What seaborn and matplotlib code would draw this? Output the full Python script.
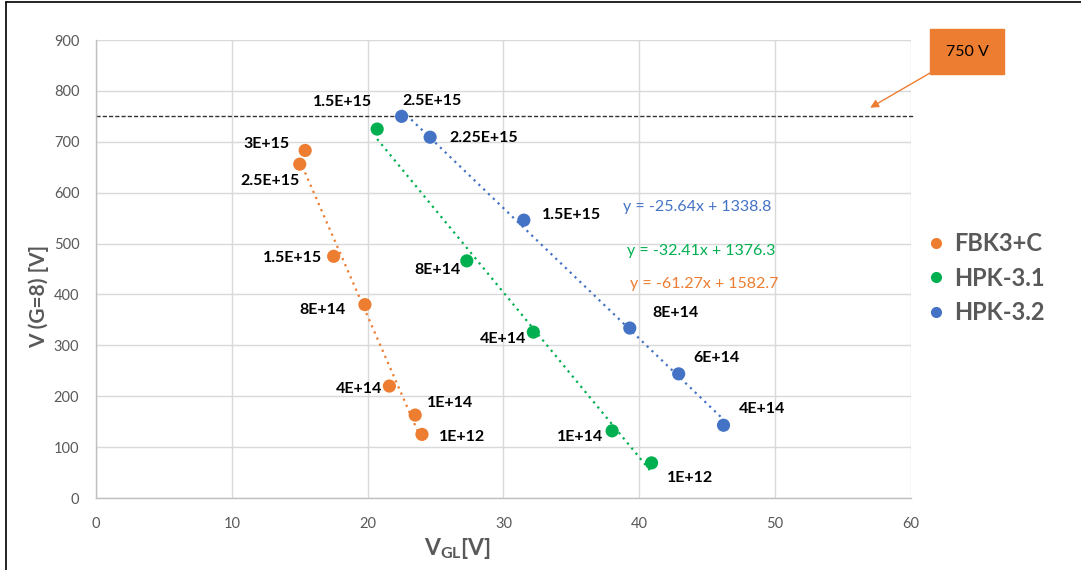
import matplotlib
matplotlib.use("Agg")
import matplotlib.pyplot as plt
from matplotlib.lines import Line2D
import numpy as np
import pandas as pd
import seaborn as sns

# Measured points: gate-layer voltage V_GL vs. bias at gain 8, labelled by fluence
fbk_vgl = [15.4, 15.0, 17.5, 19.8, 21.6, 23.5, 24.0]
fbk_v = [683, 656, 475, 380, 220, 163, 125]
fbk_flu = ["3E+15", "2.5E+15", "1.5E+15", "8E+14", "4E+14", "1E+14", "1E+12"]

hpk31_vgl = [20.7, 27.3, 32.2, 38.0, 40.9]
hpk31_v = [725, 466, 326, 132, 69]
hpk31_flu = ["1.5E+15", "8E+14", "4E+14", "1E+14", "1E+12"]

hpk32_vgl = [22.5, 24.6, 31.5, 39.3, 42.9, 46.2]
hpk32_v = [750, 709, 546, 334, 244, 143]
hpk32_flu = ["2.5E+15", "2.25E+15", "1.5E+15", "8E+14", "6E+14", "4E+14"]

# Linear trend lines (slope, intercept)
fbk_fit = (-61.27, 1582.7)
hpk31_fit = (-32.41, 1376.3)
hpk32_fit = (-25.64, 1338.8)

limit_v = 750

sns.set_theme(style="white")
plt.rcParams["font.family"] = ["Lato", "DejaVu Sans"]
plt.rcParams["mathtext.fontset"] = "custom"
plt.rcParams["mathtext.bf"] = "Lato:bold"
plt.rcParams["mathtext.rm"] = "Lato"

ORANGE = "#ED7D31"
GREEN = "#00B050"
BLUE = "#4472C4"
GRAY = "#595959"

fig = plt.figure(figsize=(10.81, 5.70), dpi=100)
ax = fig.add_axes([0.0888, 0.1263, 0.7539, 0.8035])

series = [
    ("FBK3+C", fbk_vgl, fbk_v, fbk_flu, fbk_fit, ORANGE),
    ("HPK-3.1", hpk31_vgl, hpk31_v, hpk31_flu, hpk31_fit, GREEN),
    ("HPK-3.2", hpk32_vgl, hpk32_v, hpk32_flu, hpk32_fit, BLUE),
]

frames = []
for name, xs, ys, flu, fit, col in series:
    frames.append(pd.DataFrame({"VGL": xs, "V": ys, "fluence": flu, "sensor": name}))
df = pd.concat(frames, ignore_index=True)

# trend lines over each series' x-range
for name, xs, ys, flu, fit, col in series:
    xx = np.array([min(xs), max(xs)])
    ax.plot(xx, fit[0] * xx + fit[1], linestyle=(0, (1, 2)), color=col, lw=1.6, zorder=2)

sns.scatterplot(data=df, x="VGL", y="V", hue="sensor",
                palette={"FBK3+C": ORANGE, "HPK-3.1": GREEN, "HPK-3.2": BLUE},
                s=90, edgecolor="none", ax=ax, legend=False, zorder=3)

# 750 V reference line
ax.axhline(limit_v, color="#333333", lw=1.0, linestyle=(0, (3, 1.5)), zorder=1,
           xmin=0, xmax=1.003, clip_on=False)

# fluence labels: offsets in pixels (dx, dy) relative to each point
offsets = {
    "FBK3+C": [(-39, 6), (-30, -17), (-41, -2), (-42, -5), (-30, -3), (35, 12), (40, -3)],
    "HPK-3.1": [(-35, 27), (-29, -9), (-30, -7), (-32, -6), (39, -15)],
    "HPK-3.2": [(30, 15), (54, -1), (48, 5), (46, 15), (38, 16), (39, 16)],
}
for name, xs, ys, flu, fit, col in series:
    for (x, y, lab), (dx, dy) in zip(zip(xs, ys, flu), offsets[name]):
        ax.annotate(lab, (x, y), xytext=(dx * 0.72, dy * 0.72), textcoords="offset points",
                    ha="center", va="center", fontsize=11.5, fontweight="bold",
                    color="black", zorder=4)

# trend line equations
eq_style = dict(fontsize=11.5, ha="center", va="center")
ax.text(44.25, 572, "y = -25.64x + 1338.8", color=BLUE, **eq_style)
ax.text(44.55, 485, "y = -32.41x + 1376.3", color=GREEN, **eq_style)
ax.text(44.75, 420, "y = -61.27x + 1582.7", color=ORANGE, **eq_style)

ax.set_xlim(0, 60)
ax.set_ylim(0, 900)
ax.set_xticks(np.arange(0, 61, 10))
ax.set_yticks(np.arange(0, 901, 100))
ax.grid(True, color="#D9D9D9", lw=1.0)
ax.set_axisbelow(True)
for side in ["top", "right"]:
    ax.spines[side].set_visible(False)
for side in ["left", "bottom"]:
    ax.spines[side].set_color("#BFBFBF")
    ax.spines[side].set_linewidth(1.0)
ax.tick_params(axis="both", length=0, labelsize=10.5, labelcolor=GRAY)
ax.tick_params(axis="y", pad=12)
ax.tick_params(axis="x", pad=14)

ax.set_xlabel(r"$\mathbf{V_{GL}[V]}$", fontsize=16.5, color=GRAY)
ax.xaxis.set_label_coords(0.444, -0.082)
ax.set_ylabel("V (G=8) [V]", fontsize=15, fontweight="bold", color=GRAY)
ax.yaxis.set_label_coords(-0.058, 0.44)

# legend on the right
handles = [Line2D([0], [0], marker="o", linestyle="none", markersize=8,
                  markerfacecolor=c, markeredgecolor="none") for c in (ORANGE, GREEN, BLUE)]
leg = fig.legend(handles, ["FBK3+C", "HPK-3.1", "HPK-3.2"], loc="center left",
                 bbox_to_anchor=(0.84, 0.512), frameon=False, handlelength=0.6,
                 handletextpad=0.45, labelspacing=0.5,
                 prop={"size": 17, "weight": "bold", "family": ["Lato", "DejaVu Sans"]})
for t in leg.get_texts():
    t.set_color(GRAY)

# callout box with arrow pointing at the 750 V line
ax.annotate("750 V", xy=(57.0, 767), xycoords="data",
            xytext=(0.8946, 0.9096), textcoords="figure fraction",
            fontsize=11.5, color="black", ha="center", va="center",
            bbox=dict(boxstyle="square,pad=0.95", fc=ORANGE, ec=ORANGE),
            arrowprops=dict(arrowstyle="-|>", color=ORANGE, lw=1.0,
                            shrinkA=0, shrinkB=0, mutation_scale=12),
            annotation_clip=False, zorder=5)

# thin frame lines along the left and top of the figure
fig.add_artist(Line2D([0.0055, 0.0055], [0, 0.996], transform=fig.transFigure,
                      color="black", lw=1.2))
fig.add_artist(Line2D([0.0055, 1], [0.996, 0.996], transform=fig.transFigure,
                      color="black", lw=1.2))

fig.savefig("out.png", dpi=100)
